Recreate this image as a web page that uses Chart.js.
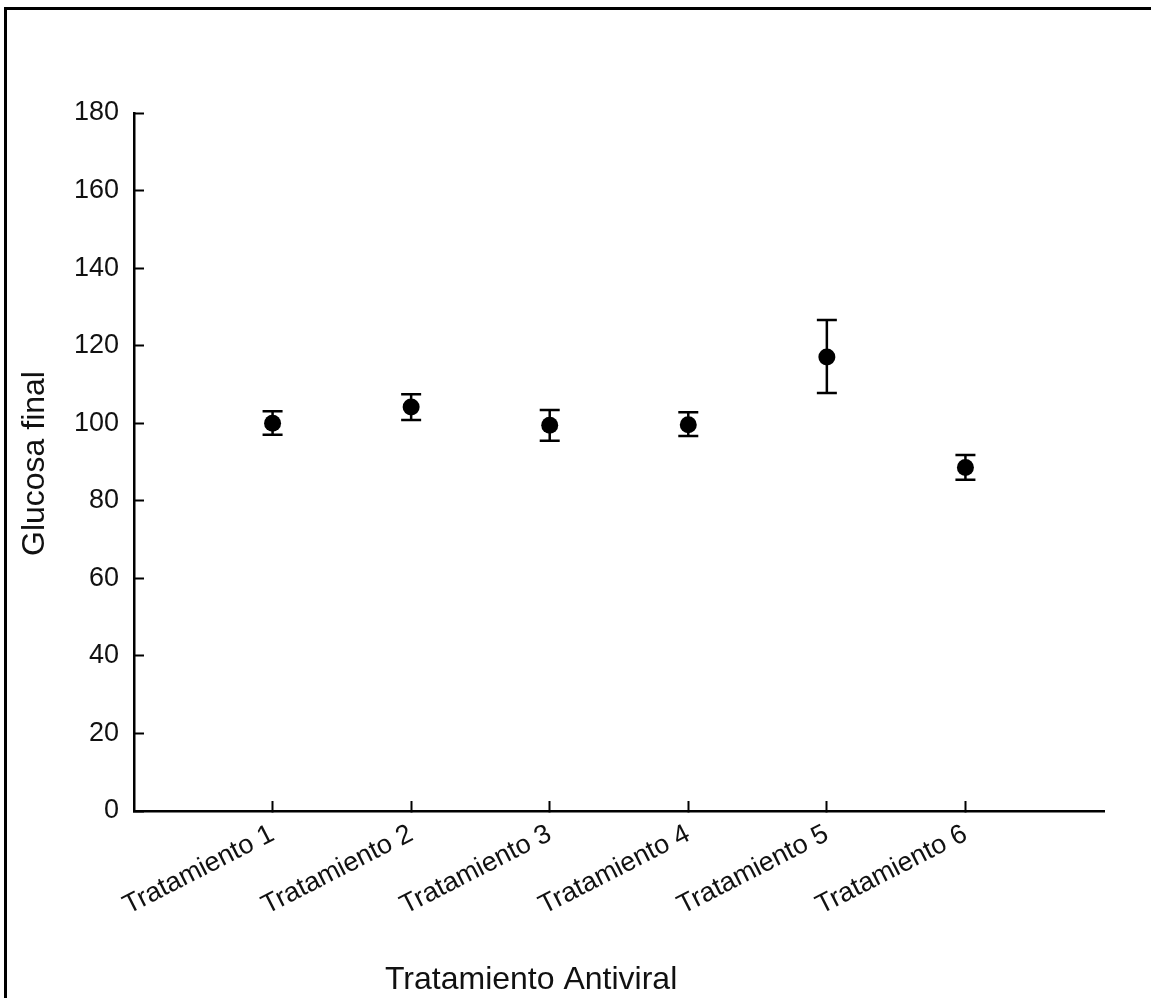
<!DOCTYPE html>
<html>
<head>
<meta charset="utf-8">
<script src="https://cdn.jsdelivr.net/npm/chart.js@4/dist/chart.umd.min.js"></script>
<style>
  html, body { margin: 0; padding: 0; background: #fff; overflow: hidden; }
  #wrap { position: relative; width: 1151px; height: 998px; }
  #frame {
    position: absolute; left: 4px; top: 7px; width: 1200px; height: 1100px;
    border-left: 3px solid #000; border-top: 3px solid #000; pointer-events: none;
  }
  canvas { position: absolute; left: 0; top: 0; }
</style>
</head>
<body>
<div id="wrap">
  <canvas id="chart" width="1151" height="998"></canvas>
  <div id="frame"></div>
</div>
<script>
const categories = [
  "Tratamiento 1",
  "Tratamiento 2",
  "Tratamiento 3",
  "Tratamiento 4",
  "Tratamiento 5",
  "Tratamiento 6",
];
const means = [100.0, 104.2, 99.5, 99.6, 117.1, 88.6];
const upper = [103.1, 107.5, 103.4, 102.8, 126.6, 91.8];
const lower = [97.0, 100.8, 95.5, 96.7, 107.8, 85.4];
const yTicks = [0, 20, 40, 60, 80, 100, 120, 140, 160, 180];

const xTitle = "Tratamiento Antiviral";
const yTitle = "Glucosa final";

const FONT = "'Liberation Sans', Arial, sans-serif";

// whiskers with caps, drawn under the points
const errorBars = {
  id: "errorBars",
  beforeDatasetsDraw(chart) {
    const { ctx, scales } = chart;
    ctx.save();
    ctx.strokeStyle = "#000";
    ctx.lineWidth = 2.5;
    categories.forEach((c, i) => {
      const x = scales.x.getPixelForValue(i + 1);
      const yHi = scales.y.getPixelForValue(upper[i]);
      const yLo = scales.y.getPixelForValue(lower[i]);
      ctx.beginPath();
      ctx.moveTo(x, yHi);
      ctx.lineTo(x, yLo);
      ctx.moveTo(x - 10, yHi);
      ctx.lineTo(x + 10, yHi);
      ctx.moveTo(x - 10, yLo);
      ctx.lineTo(x + 10, yLo);
      ctx.stroke();
    });
    ctx.restore();
  },
};

// axis titles sit off-centre in the original, so draw them by hand
const axisTitles = {
  id: "axisTitles",
  afterDraw(chart) {
    const { ctx } = chart;
    ctx.save();
    ctx.fillStyle = "#111";
    ctx.font = `32px ${FONT}`;
    ctx.textBaseline = "alphabetic";
    ctx.textAlign = "left";
    ctx.fillText(xTitle, 385, 989);
    ctx.translate(44, 556);
    ctx.rotate(-Math.PI / 2);
    ctx.fillText(yTitle, 0, 0);
    ctx.restore();
  },
};

new Chart(document.getElementById("chart"), {
  type: "scatter",
  data: {
    datasets: [
      {
        label: "Glucosa final",
        data: means.map((m, i) => ({ x: i + 1, y: m })),
        pointRadius: 8.5,
        pointHoverRadius: 8.5,
        backgroundColor: "#000",
        borderColor: "#000",
        borderWidth: 0,
      },
    ],
  },
  options: {
    responsive: false,
    animation: false,
    events: [],
    layout: {
      padding: { top: 113, right: 47, bottom: 0, left: 0 },
    },
    plugins: {
      legend: { display: false },
      tooltip: { enabled: false },
    },
    scales: {
      x: {
        type: "linear",
        min: 0,
        max: 7,
        afterFit: (s) => {
          s.height = 187;
        },
        afterBuildTicks: (s) => {
          s.ticks = categories.map((c, i) => ({ value: i + 1 }));
        },
        border: { display: true, color: "#000", width: 2.5 },
        grid: {
          drawOnChartArea: false,
          drawTicks: true,
          tickLength: -10,
          tickColor: "#000",
          tickWidth: 2,
        },
        ticks: {
          autoSkip: false,
          minRotation: 27,
          maxRotation: 27,
          padding: 17,
          color: "#111",
          font: { family: FONT, size: 27 },
          callback: (v) => categories[v - 1] ?? "",
        },
      },
      y: {
        min: 0,
        max: 180,
        afterFit: (s) => {
          s.width = 134;
        },
        afterBuildTicks: (s) => {
          s.ticks = yTicks.map((v) => ({ value: v }));
        },
        border: { display: true, color: "#000", width: 2.5 },
        grid: {
          drawOnChartArea: false,
          drawTicks: true,
          tickLength: -10,
          tickColor: "#000",
          tickWidth: 2,
        },
        ticks: {
          padding: 25,
          color: "#111",
          font: { family: FONT, size: 27 },
        },
      },
    },
  },
  plugins: [errorBars, axisTitles],
});
</script>
</body>
</html>
